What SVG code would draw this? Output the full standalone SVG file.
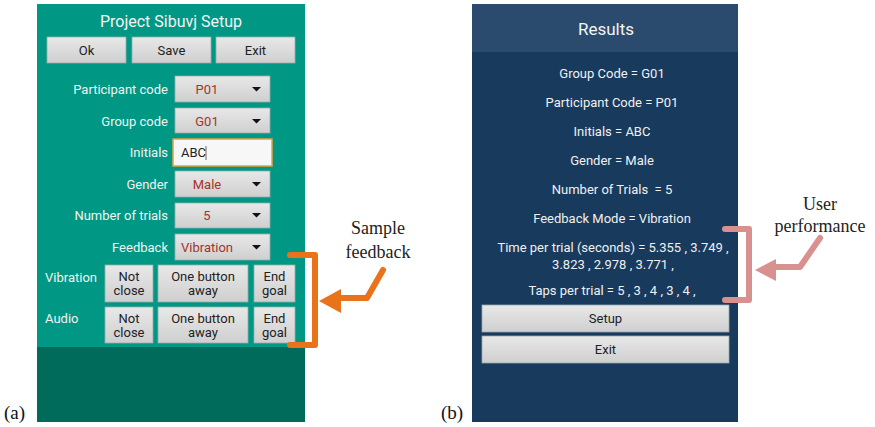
<svg xmlns="http://www.w3.org/2000/svg" width="875" height="427" viewBox="0 0 875 427">
<defs>
<linearGradient id="btn" x1="0" y1="0" x2="0" y2="1">
<stop offset="0" stop-color="#e8e8e8"/><stop offset="1" stop-color="#cfcfcf"/>
</linearGradient>
<style>
.app{font-family:Roboto,"Liberation Sans",sans-serif}
.lbl{font-family:Roboto,"Liberation Sans",sans-serif;font-size:13px;fill:#f2f2f2;text-anchor:end}
.btn{fill:url(#btn);stroke:#9aa;stroke-width:0.8}
.bt{font-family:Roboto,"Liberation Sans",sans-serif;font-size:13px;fill:#222;text-anchor:middle}
.val{font-family:Roboto,"Liberation Sans",sans-serif;font-size:13px;fill:#a8322a;text-anchor:middle}
.res{font-family:Roboto,"Liberation Sans",sans-serif;font-size:13px;fill:#f0f0f0;text-anchor:middle}
.ann{font-family:"Liberation Serif","Times New Roman",serif;font-size:18px;fill:#222;text-anchor:middle}
.cap{font-family:"Liberation Serif","Times New Roman",serif;font-size:19px;fill:#111}
</style>
</defs>
<rect width="875" height="427" fill="#fff"/>

<g id="panel-a">
<rect x="37" y="4" width="268" height="343" fill="#009884"/>
<rect x="37" y="347" width="268" height="75" fill="#016b5b"/>
<text x="171" y="27" class="app" font-size="16" fill="#f4f4f4" text-anchor="middle">Project Sibuvj Setup</text>
</g>

<g id="btn-ok"><rect class="btn" x="47" y="37" width="79" height="26"/><text class="bt" x="86.5" y="55">Ok</text></g>
<g id="btn-save"><rect class="btn" x="132" y="37" width="79" height="26"/><text class="bt" x="171.5" y="55">Save</text></g>
<g id="btn-exit"><rect class="btn" x="216" y="37" width="79" height="26"/><text class="bt" x="255.5" y="55">Exit</text></g>

<g id="participant">
<text class="lbl" x="168" y="94">Participant code</text>
<rect class="btn" x="175" y="76" width="95" height="26"/><text class="val" x="207" y="94">P01</text>
<path d="M252 87h9l-4.5 4.5z" fill="#111"/>
</g>
<g id="group">
<text class="lbl" x="168" y="126">Group code</text>
<rect class="btn" x="175" y="108" width="95" height="25"/><text class="val" x="207" y="126">G01</text>
<path d="M252 119h9l-4.5 4.5z" fill="#111"/>
</g>
<g id="initials">
<text class="lbl" x="168" y="157">Initials</text>
<rect x="173" y="139" width="99" height="27" fill="#f7f7f7" stroke="#e8a040" stroke-width="1.5"/>
<text x="181" y="157" class="app" font-size="13" fill="#222">ABC</text>
<line x1="206" y1="146" x2="206" y2="160" stroke="#444" stroke-width="0.8"/>
</g>
<g id="gender">
<text class="lbl" x="168" y="189">Gender</text>
<rect class="btn" x="175" y="171" width="95" height="26"/><text class="val" x="207" y="189">Male</text>
<path d="M252 182h9l-4.5 4.5z" fill="#111"/>
</g>
<g id="trials">
<text class="lbl" x="168" y="220">Number of trials</text>
<rect class="btn" x="175" y="203" width="95" height="25"/><text class="val" x="207" y="220">5</text>
<path d="M252 213h9l-4.5 4.5z" fill="#111"/>
</g>
<g id="feedback">
<text class="lbl" x="168" y="252">Feedback</text>
<rect class="btn" x="175" y="234" width="95" height="26"/><text class="val" x="207" y="252">Vibration</text>
<path d="M252 245h9l-4.5 4.5z" fill="#111"/>
</g>

<g id="vibration-row">
<text x="45" y="282" class="app" font-size="13" fill="#f2f2f2">Vibration</text>
<rect class="btn" x="105" y="265" width="48" height="37"/><text class="bt" x="129" y="281">Not</text><text class="bt" x="129" y="295">close</text>
<rect class="btn" x="158" y="265" width="90" height="37"/><text class="bt" x="203" y="281">One button</text><text class="bt" x="203" y="295">away</text>
<rect class="btn" x="254" y="265" width="41" height="37"/><text class="bt" x="274.5" y="281">End</text><text class="bt" x="274.5" y="295">goal</text>
</g>
<g id="audio-row">
<text x="45" y="323" class="app" font-size="13" fill="#f2f2f2">Audio</text>
<rect class="btn" x="105" y="307" width="48" height="36"/><text class="bt" x="129" y="323">Not</text><text class="bt" x="129" y="337">close</text>
<rect class="btn" x="158" y="307" width="90" height="36"/><text class="bt" x="203" y="323">One button</text><text class="bt" x="203" y="337">away</text>
<rect class="btn" x="254" y="307" width="41" height="36"/><text class="bt" x="274.5" y="323">End</text><text class="bt" x="274.5" y="337">goal</text>
</g>

<g id="panel-b">
<rect x="472" y="4" width="266" height="418" fill="#183a5d"/>
<rect x="472" y="4" width="266" height="48" fill="#2a4b6e"/>
<text x="606" y="35" class="app" font-size="17" fill="#f4f4f4" text-anchor="middle">Results</text>
<text class="res" x="612" y="78">Group Code = G01</text>
<text class="res" x="612" y="107">Participant Code = P01</text>
<text class="res" x="612" y="136">Initials = ABC</text>
<text class="res" x="612" y="165">Gender = Male</text>
<text class="res" x="612" y="194" xml:space="preserve">Number of Trials  = 5</text>
<text class="res" x="612" y="223">Feedback Mode = Vibration</text>
<text class="res" x="613" y="252">Time per trial (seconds) = 5.355 , 3.749 ,</text>
<text class="res" x="613" y="269">3.823 , 2.978 , 3.771 ,</text>
<text class="res" x="612" y="295">Taps per trial = 5 , 3 , 4 , 3 , 4 ,</text>
</g>
<g id="btn-setup"><rect class="btn" x="482" y="305" width="247" height="27"/><text class="bt" x="605.5" y="323">Setup</text></g>
<g id="btn-exit-b"><rect class="btn" x="482" y="336" width="247" height="27"/><text class="bt" x="605.5" y="354">Exit</text></g>

<g id="connectors">
<path d="M290 255H315V345H290" fill="none" stroke="#e8731a" stroke-width="6" stroke-linejoin="round" stroke-linecap="round"/>
<path d="M383 270L367 298H336" fill="none" stroke="#e8731a" stroke-width="6" stroke-linejoin="round" stroke-linecap="round"/>
<path d="M319 301L341 289V313Z" fill="#e8731a"/>
<path d="M725 229H749V300H725" fill="none" stroke="#d8918f" stroke-width="6" stroke-linejoin="round" stroke-linecap="round"/>
<path d="M820 238L800 267H772" fill="none" stroke="#d8918f" stroke-width="6" stroke-linejoin="round" stroke-linecap="round"/>
<path d="M755 270L776 259V281Z" fill="#d8918f"/>
</g>

<g id="annotations">
<text class="ann" x="378" y="234">Sample</text>
<text class="ann" x="378" y="258">feedback</text>
<text class="ann" x="820" y="210">User</text>
<text class="ann" x="820" y="232">performance</text>
<text class="cap" x="4" y="419">(a)</text>
<text class="cap" x="441" y="419">(b)</text>
</g>
</svg>
